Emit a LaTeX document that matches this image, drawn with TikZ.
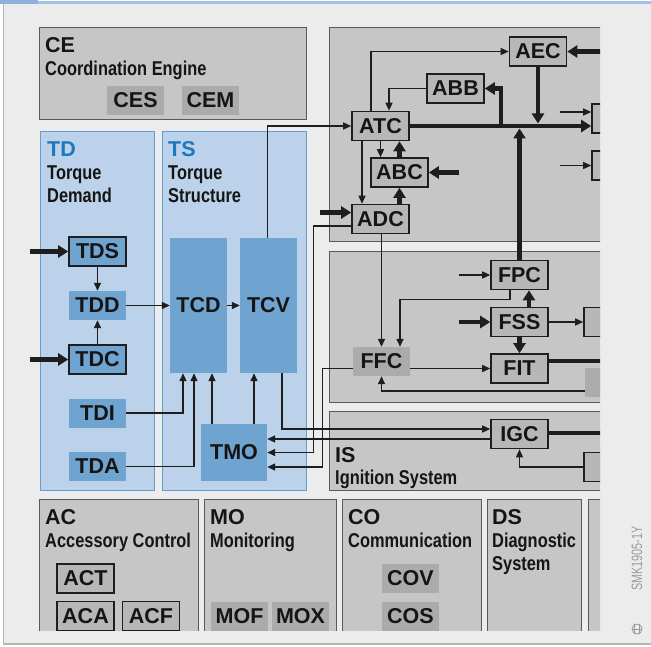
\documentclass[tikz,border=0pt]{standalone}
\usepackage{fontspec}
\setmainfont{Liberation Sans}
\newfontfamily\condf[FakeStretch=0.82]{Liberation Sans}
\newfontfamily\narrowf[FakeStretch=0.72]{Liberation Sans}
\usetikzlibrary{arrows.meta,calc}
\definecolor{lc}{HTML}{1E1E1E}
\definecolor{pgray}{HTML}{C6C6C6}
\definecolor{pbord}{HTML}{5A5A5A}
\definecolor{gboxc}{HTML}{B7B7B7}
\definecolor{dboxc}{HTML}{ABABAB}
\definecolor{bpan}{HTML}{BCD1EA}
\definecolor{bbord}{HTML}{5C9FD0}
\definecolor{bboxc}{HTML}{6FA3D0}
\definecolor{tdblue}{HTML}{1E78BD}
\definecolor{bgc}{HTML}{ECECEC}
\definecolor{framec}{HTML}{B4B4B4}
\definecolor{barc}{HTML}{A4C0E3}
\definecolor{bardark}{HTML}{8EB0DC}
\definecolor{txt}{HTML}{151515}
\definecolor{smkc}{HTML}{9A9A9A}
\newcommand\labf{\fontsize{21.5}{21.5}\selectfont\bfseries}
\newcommand\hdf{\fontsize{21.5}{21.5}\selectfont\bfseries}
\newcommand\subf{\condf\fontsize{20}{20}\selectfont\bfseries}
\begin{document}
\begin{tikzpicture}[x=1pt,y=-1pt,
  thinarr/.style={draw=lc,line width=1.4pt,-{Triangle[length=8pt,width=7pt]}},
  thickarr/.style={draw=lc,line width=4.5pt,-{Triangle[length=10pt,width=12pt]}},
  thinln/.style={draw=lc,line width=1.4pt},
  thickln/.style={draw=lc,line width=4.5pt},
  panel/.style={draw=pbord,line width=1pt,fill=pgray},
  bpanel/.style={draw=bbord,line width=1pt,fill=bpan},
  box/.style={minimum width=57pt,minimum height=29pt,inner sep=0pt,font=\labf,text=txt},
  gbox/.style={box,draw=lc,line width=1.6pt,fill=gboxc},
  dbox/.style={box,fill=dboxc},
  bbox/.style={box,fill=bboxc},
  bbbox/.style={box,fill=bboxc,draw=lc,line width=1.6pt},
  hd/.style={anchor=base west,inner sep=0pt,font=\hdf,text=txt},
  sub/.style={anchor=base west,inner sep=0pt,font=\subf,text=txt},
]
\useasboundingbox (0,0) rectangle (651,647);
% background and frame
\fill[white] (0,0) rectangle (651,647);
\fill[bgc] (3.5,4) rectangle (651,644);
\draw[framec,line width=1.2pt] (3.5,4) -- (3.5,644) -- (651,644);
\fill[barc] (0,1.5) rectangle (651,4.5);
\fill[bardark] (0,0) rectangle (38,4.5);

\begin{scope}
\clip (0,0) rectangle (600,630);
% panels
\draw[panel] (39,28) rectangle (306,120);
\draw[panel] (329,28) rectangle (640,242);
\draw[panel] (329,252) rectangle (640,402);
\draw[panel] (329,411) rectangle (640,490);
\draw[bpanel] (40,132) rectangle (154,490);
\draw[bpanel] (162,132) rectangle (306,490);
\draw[panel] (39,499) rectangle (198,660);
\draw[panel] (204,499) rectangle (336,660);
\draw[panel] (342,499) rectangle (481,660);
\draw[panel] (487,499) rectangle (581,660);
\draw[panel] (588,499) rectangle (660,660);

% panel labels
\node[hd] (lCE) at (45,53) {CE};
\node[sub] (lCEs) at (45,76) {Coordination Engine};
\node[hd,text=tdblue] (lTD) at (47,157) {TD};
\node[sub] (lTD1) at (47,180) {Torque};
\node[sub] (lTD2) at (47,203) {Demand};
\node[hd,text=tdblue] (lTS) at (168,157) {TS};
\node[sub] (lTS1) at (168,180) {Torque};
\node[sub] (lTS2) at (168,203) {Structure};
\node[hd] (lIS) at (335,462) {IS};
\node[sub] (lISs) at (335,484) {Ignition System};
\node[hd] (lAC) at (45,524) {AC};
\node[sub] (lACs) at (45,547) {Accessory Control};
\node[hd] (lMO) at (210,524) {MO};
\node[sub] (lMOs) at (210,547) {Monitoring};
\node[hd] (lCO) at (348,524) {CO};
\node[sub] (lCOs) at (348,547) {Communication};
\node[hd] (lDS) at (492,524) {DS};
\node[sub] (lDS1) at (492,547) {Diagnostic};
\node[sub] (lDS2) at (492,570) {System};

% CE boxes
\node[dbox] (CES) at (135.5,100.5) {CES};
\node[dbox] (CEM) at (210.5,100.5) {CEM};

% A group
\node[gbox] (AEC) at (538,51.5) {AEC};
\node[gbox] (ABB) at (455.5,88.5) {ABB};
\node[gbox] (ATC) at (380.5,126) {ATC};
\node[gbox] (ABC) at (399.5,172.5) {ABC};
\node[gbox] (ADC) at (380.5,219) {ADC};
\node[gbox,minimum width=28pt] (R1) at (606,118.5) {};
\node[gbox,minimum width=28pt] (R2) at (606,165.5) {};

% F group
\node[gbox] (FPC) at (519.5,275) {FPC};
\node[gbox] (FSS) at (519.5,322) {FSS};
\node[gbox] (FIT) at (519.5,368.5) {FIT};
\node[dbox] (FFC) at (381.5,361.5) {FFC};
\node[gbox,minimum width=30pt] (R3) at (599,322) {};
\node[dbox,minimum width=30pt] (R4) at (600,382.5) {};

% IS group
\node[gbox] (IGC) at (519.5,434) {IGC};
\node[gbox,minimum width=30pt] (R5) at (599,467) {};

% TD / TS
\node[bbbox] (TDS) at (97.5,251.5) {TDS};
\node[bbox] (TDD) at (97.5,305.5) {TDD};
\node[bbbox] (TDC) at (97.5,359.5) {TDC};
\node[bbox] (TDI) at (97.5,413) {TDI};
\node[bbox] (TDA) at (97.5,466.5) {TDA};
\node[bbox,minimum height=135pt] (TCD) at (198.5,305.5) {TCD};
\node[bbox,minimum height=135pt] (TCV) at (268.5,305.5) {TCV};
\node[bbox,minimum width=66pt,minimum height=57pt] (TMO) at (234,452.5) {TMO};

% bottom boxes
\node[gbox] (ACT) at (85.5,578.5) {ACT};
\node[gbox] (ACA) at (85.5,616) {ACA};
\node[gbox] (ACF) at (151,616) {ACF};
\node[dbox] (MOF) at (239.5,616) {MOF};
\node[dbox] (MOX) at (300.5,616) {MOX};
\node[dbox] (COV) at (410.5,578) {COV};
\node[dbox] (COS) at (410.5,616) {COS};

% free ends
\coordinate (aecin) at (602,51.5);
\coordinate (r1in) at (560,112);
\coordinate (r2in) at (560,165.5);
\coordinate (abcin) at (459,172.5);
\coordinate (adcin) at (320,212.5);
\coordinate (fpcin) at (459,275);
\coordinate (fssin) at (459,322);
\coordinate (tdsin) at (30,251.5);
\coordinate (tdcin) at (30,359.5);
\coordinate (j1) at (501,126);

% A group connectors
\draw[thinarr] ([xshift=-1pt]TCV.north) |- (ATC.west);
\draw[thinarr] ([xshift=-9.5pt]ATC.north) |- (AEC.west);
\draw[thinarr] (ABB.west) -| ([xshift=8.5pt]ATC.north);
\draw[thickarr] (ATC.east) -- (ATC.east -| R1.west);
\draw[thickarr] (j1) |- (ABB.east);
\draw[thickarr] (AEC.south) -- ($(AEC.south |- ATC.east)+(0,-2.5)$);
\draw[thickarr] (FPC.north) -- ($(FPC.north |- ATC.east)+(0,2.5)$);
\draw[thickarr] (aecin) -- (AEC.east);
\draw[thinarr] (r1in) -- (r1in -| R1.west);
\draw[thinarr] (r2in) -- (r2in -| R2.west);
\draw[thinarr] (ATC.south) -- (ATC.south |- ABC.north);
\draw[thickarr] (ABC.north) -- (ABC.north |- ATC.south);
\draw[thinarr] ([xshift=-18.5pt]ATC.south) -- ([xshift=-18.5pt]ADC.north);
\draw[thickarr] (abcin) -- (ABC.east);
\draw[thickarr] (ADC.north -| ABC.south) -- (ABC.south);
\draw[thickarr] (adcin) -- (adcin -| ADC.west);
\draw[thinarr] ([yshift=-7pt]ADC.west) -| ($(TMO.east)+(46,0)$) -- (TMO.east);
\draw[thinarr] (ADC.south -| FFC.north) -- (FFC.north);

% F group connectors
\draw[thinarr] (fpcin) -- (FPC.west);
\draw[thinarr] ([xshift=-9.5pt]FPC.south) |- ++(0,9) -| ([xshift=18.5pt]FFC.north);
\draw[thickarr] ([xshift=9.5pt]FSS.north) -- ([xshift=9.5pt]FPC.south);
\draw[thickarr] (FSS.south) -- (FIT.north);
\draw[thickarr] (fssin) -- (FSS.west);
\draw[thinarr] (FSS.east) -- (R3.west);
\draw[thinarr] (FFC.east |- FIT.west) -- (FIT.west);
\draw[thickln] ([yshift=7.5pt]FIT.east) -- ++(70,0);
\draw[thinarr] ([yshift=-8.5pt]R4.west) -| (FFC.south);
\draw[thinarr] ([yshift=-7pt]FFC.west) -| ([xshift=55pt,yshift=-14.5pt]TMO.east) -- ([yshift=-14.5pt]TMO.east);

% IS connectors
\draw[thinarr] ([xshift=13.5pt]TCV.south) |- ([yshift=5pt]IGC.west);
\draw[thinarr] ([yshift=-5pt]IGC.west) -- ([yshift=-5pt]IGC.west -| TMO.east);
\draw[thickln] ([yshift=1pt]IGC.east) -- ++(70,0);
\draw[thinarr] (R5.west) -| (IGC.south);

% TD / TS connectors
\draw[thickarr] (tdsin) -- (TDS.west);
\draw[thickarr] (tdcin) -- (TDC.west);
\draw[thinarr] (TDS.south) -- (TDD.north);
\draw[thinarr] (TDC.north) -- (TDD.south);
\draw[thinarr] (TDD.east) -- (TDD.east -| TCD.west);
\draw[thinarr] (TCD.east) -- (TCD.east -| TCV.west);
\draw[thinarr] (TDI.east) -| ([xshift=-15.5pt]TCD.south);
\draw[thinarr] (TDA.east) -| ([xshift=-4.5pt]TCD.south);
\draw[thinarr] ([xshift=-22pt]TMO.north) -- ([xshift=-22pt]TMO.north |- TCD.south);
\draw[thinarr] ([xshift=20pt]TMO.north) -- ([xshift=20pt]TMO.north |- TCV.south);
\end{scope}

% credit
\node[rotate=90,anchor=base west,inner sep=0pt,text=smkc,font=\narrowf\fontsize{15}{15}\selectfont] (smk) at (642,591) {SMK1905-1Y};
\node[circle,draw=smkc,line width=0.8pt,minimum size=10pt,inner sep=0pt] (logo) at (637,629) {};
\draw[smkc,line width=0.7pt] ([xshift=-2.5pt]logo.north) -- ([xshift=-2.5pt]logo.south);
\draw[smkc,line width=0.7pt] ([xshift=2.5pt]logo.north) -- ([xshift=2.5pt]logo.south);
\draw[smkc,line width=0.7pt] (logo.west) -- (logo.east);
\end{tikzpicture}
\end{document}
